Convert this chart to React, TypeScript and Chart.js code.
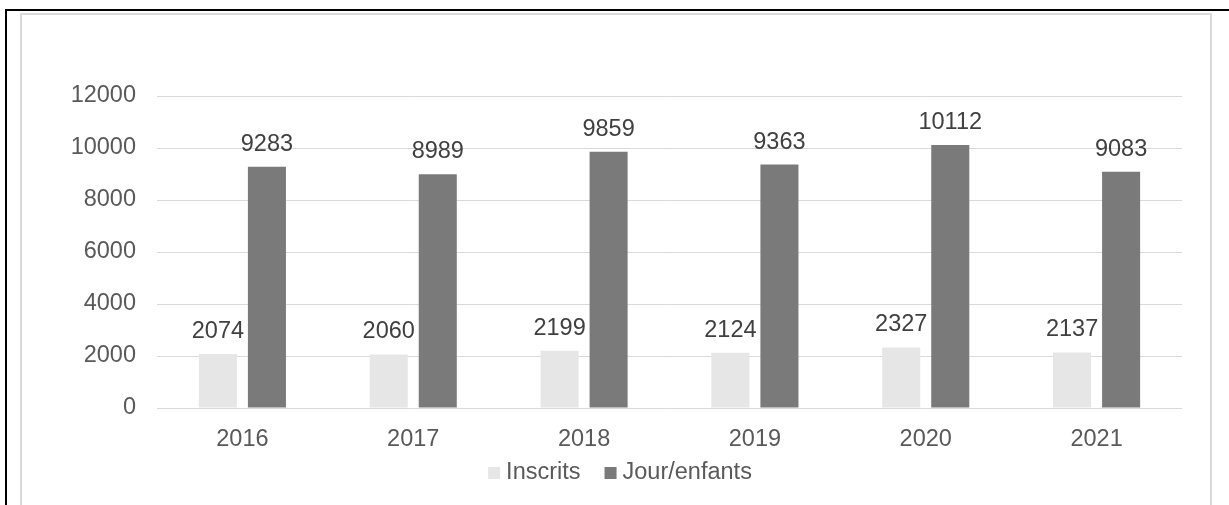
import React, { useEffect, useRef } from "react";
import { Chart, registerables } from "chart.js";

Chart.register(...registerables);

const years = ["2016", "2017", "2018", "2019", "2020", "2021"];
const inscrits = [2074, 2060, 2199, 2124, 2327, 2137];
const jourEnfants = [9283, 8989, 9859, 9363, 10112, 9083];
const seriesNames = ["Inscrits", "Jour/enfants"];
const seriesColors = ["#E6E6E6", "#7A7A7A"];
const yMax = 12000;
const yStep = 2000;

const FONT = '"Liberation Sans", Arial, sans-serif';
const FONT_SIZE = 23.5;

const dataLabelsPlugin = {
  id: "dataLabels",
  afterDatasetsDraw(chart: any) {
    const ctx = chart.ctx;
    ctx.save();
    ctx.font = `${FONT_SIZE}px ${FONT}`;
    ctx.fillStyle = "#404040";
    ctx.textAlign = "center";
    ctx.textBaseline = "alphabetic";
    chart.data.datasets.forEach((ds: any, i: number) => {
      const meta = chart.getDatasetMeta(i);
      meta.data.forEach((el: any, j: number) => {
        ctx.fillText(String(ds.data[j]), el.x, el.y - 16);
      });
    });
    ctx.restore();
  },
};

const customLegendPlugin = {
  id: "customLegend",
  afterDraw(chart: any) {
    const ctx = chart.ctx;
    ctx.save();
    ctx.font = `${FONT_SIZE}px ${FONT}`;
    const box = 12;
    const boxGap = 6;
    const itemGap = 24;
    const items = chart.data.datasets.map((ds: any) => ({
      text: ds.label,
      color: ds.backgroundColor,
      w: ctx.measureText(ds.label).width,
    }));
    let total = 0;
    items.forEach((it: any, i: number) => {
      total += box + boxGap + it.w + (i < items.length - 1 ? itemGap : 0);
    });
    let x = chart.width / 2 + 4 - total / 2;
    const y = 458;
    items.forEach((it: any) => {
      ctx.fillStyle = it.color;
      ctx.fillRect(x, y - box / 2, box, box);
      ctx.fillStyle = "#595959";
      ctx.textAlign = "left";
      ctx.textBaseline = "middle";
      ctx.fillText(it.text, x + box + boxGap, y);
      x += box + boxGap + it.w + itemGap;
    });
    ctx.restore();
  },
};

function BarChart() {
  const ref = useRef<HTMLCanvasElement | null>(null);
  useEffect(() => {
    if (!ref.current) return;
    const chart = new Chart(ref.current, {
      type: "bar",
      data: {
        labels: years,
        datasets: [
          {
            label: seriesNames[0],
            data: inscrits,
            backgroundColor: seriesColors[0],
            categoryPercentage: 0.574,
            barPercentage: 0.776,
          },
          {
            label: seriesNames[1],
            data: jourEnfants,
            backgroundColor: seriesColors[1],
            categoryPercentage: 0.574,
            barPercentage: 0.776,
          },
        ],
      },
      options: {
        animation: false,
        responsive: false,
        devicePixelRatio: 1,
        layout: { padding: { top: 81, right: 28, bottom: 37, left: 0 } },
        plugins: {
          legend: { display: false },
          tooltip: { enabled: false },
        },
        scales: {
          x: {
            grid: { display: false },
            border: { display: false },
            ticks: {
              color: "#595959",
              font: { family: FONT, size: FONT_SIZE },
              padding: 9,
            },
            afterFit: (scale: any) => {
              scale.height = 60;
            },
          },
          y: {
            min: 0,
            max: yMax,
            ticks: {
              stepSize: yStep,
              color: "#595959",
              font: { family: FONT, size: FONT_SIZE },
              padding: 21,
              callback: (v: any) => String(v),
            },
            grid: { color: "#D9D9D9", lineWidth: 1, drawTicks: false },
            border: { display: false },
            afterFit: (scale: any) => {
              scale.width = 135;
            },
          },
        },
      },
      plugins: [dataLabelsPlugin, customLegendPlugin],
    });
    return () => chart.destroy();
  }, []);
  return (
    <canvas
      ref={ref}
      width={1188}
      height={490}
      style={{ position: "absolute", left: 22, top: 15, width: 1188, height: 490 }}
    />
  );
}

export default function App() {
  return (
    <div
      style={{
        position: "absolute",
        left: 0,
        top: 0,
        width: 1229,
        height: 505,
        overflow: "hidden",
        background: "#FFFFFF",
      }}
    >
      <div
        style={{
          position: "absolute",
          left: 5,
          top: 9,
          width: 1224,
          height: 600,
          borderLeft: "2px solid #000000",
          borderTop: "2px solid #000000",
          boxSizing: "border-box",
        }}
      />
      <div
        style={{
          position: "absolute",
          left: 20,
          top: 13,
          width: 1192,
          height: 600,
          border: "2px solid #D9D9D9",
          boxSizing: "border-box",
        }}
      />
      <BarChart />
    </div>
  );
}
